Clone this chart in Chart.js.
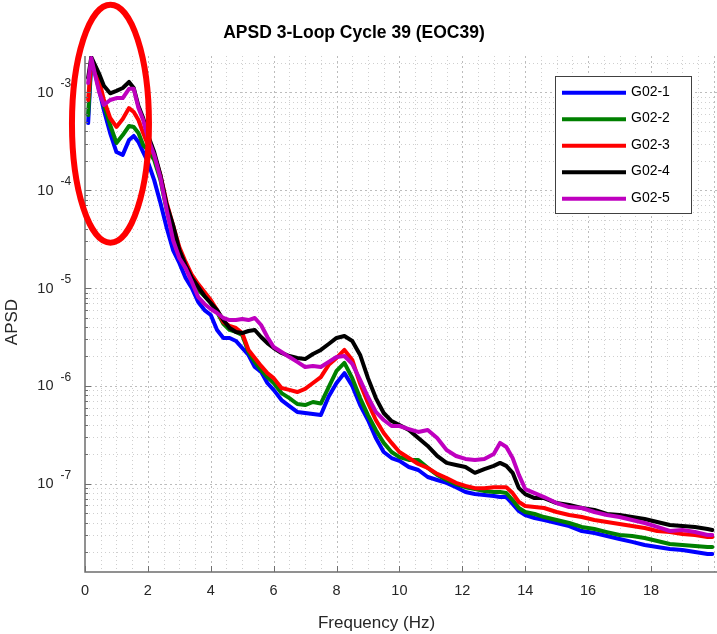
<!DOCTYPE html>
<html>
<head>
<meta charset="utf-8">
<script src="https://cdn.jsdelivr.net/npm/chart.js@4.4.1/dist/chart.umd.min.js"></script>
<style>
html,body{margin:0;padding:0;background:#ffffff;}
#wrap{width:717px;height:634px;position:relative;}
canvas{display:block;}
</style>
</head>
<body>
<div id="wrap"><canvas id="c" width="717" height="634"></canvas></div>
<script>
// ---------------- DATA ----------------
const freqHz = [0.1,0.2,0.3,0.45,0.6,0.8,1.0,1.2,1.4,1.55,1.7,1.85,
  2.0,2.2,2.4,2.6,2.8,3.0,3.2,3.4,3.6,3.8,4.0,4.2,4.4,4.6,4.8,
  5.0,5.2,5.4,5.6,5.8,6.0,6.25,6.5,6.75,7.0,7.25,7.5,7.75,
  8.0,8.25,8.5,8.75,9.0,9.25,9.5,9.75,10.0,10.3,10.6,10.9,
  11.2,11.5,11.8,12.1,12.4,12.7,13.0,13.2,13.4,13.6,13.8,
  14.0,14.3,14.6,15.0,15.4,15.8,16.2,16.6,17.0,17.4,17.8,
  18.2,18.6,19.0,19.4,19.8,19.95];

const g02_1 = [4.87e-4,2.05e-3,1.70e-3,1.06e-3,6.63e-4,3.85e-4,2.46e-4,2.30e-4,3.27e-4,3.59e-4,3.12e-4,2.46e-4,
  1.95e-4,1.27e-4,7.40e-5,4.12e-5,2.45e-5,1.81e-5,1.27e-5,1.0e-5,7.2e-6,5.96e-6,5.31e-6,3.73e-6,3.09e-6,3.09e-6,2.88e-6,
  2.44e-6,2.07e-6,1.56e-6,1.39e-6,1.07e-6,9.1e-7,7.16e-7,6.22e-7,5.41e-7,5.28e-7,5.16e-7,5.03e-7,7.8e-7,
  1.07e-6,1.35e-6,1.0e-6,6.37e-7,4.48e-7,2.93e-7,2.11e-7,1.83e-7,1.71e-7,1.48e-7,1.38e-7,1.17e-7,
  1.09e-7,1.02e-7,9.2e-8,8.21e-8,7.83e-8,7.65e-8,7.47e-8,7.30e-8,7.30e-8,6.2e-8,5.25e-8,
  4.78e-8,4.46e-8,4.25e-8,3.96e-8,3.69e-8,3.28e-8,3.13e-8,2.92e-8,2.72e-8,2.54e-8,2.36e-8,
  2.25e-8,2.15e-8,2.10e-8,2.0e-8,1.91e-8,1.91e-8];

const g02_2 = [5.88e-4,2.15e-3,1.78e-3,1.22e-3,7.45e-4,4.65e-4,3.05e-4,3.67e-4,4.54e-4,4.44e-4,3.85e-4,2.90e-4,
  2.58e-4,2.04e-4,1.27e-4,6.28e-5,3.49e-5,2.18e-5,1.64e-5,1.21e-5,9.6e-6,8.3e-6,7.03e-6,5.69e-6,4.30e-6,3.73e-6,3.56e-6,
  3.31e-6,2.22e-6,1.76e-6,1.45e-6,1.23e-6,1.07e-6,8.44e-7,7.5e-7,6.53e-7,6.37e-7,6.84e-7,6.6e-7,9.7e-7,
  1.42e-6,1.72e-6,1.20e-6,7.5e-7,5.03e-7,3.54e-7,2.61e-7,2.11e-7,1.87e-7,1.75e-7,1.75e-7,1.45e-7,
  1.23e-7,1.09e-7,9.9e-8,9.2e-8,8.81e-8,8.41e-8,8.21e-8,8.21e-8,8.02e-8,6.8e-8,5.64e-8,
  5.13e-8,4.90e-8,4.56e-8,4.25e-8,3.96e-8,3.61e-8,3.44e-8,3.20e-8,2.99e-8,2.92e-8,2.78e-8,
  2.59e-8,2.42e-8,2.36e-8,2.31e-8,2.25e-8,2.25e-8];

const g02_3 = [8.37e-4,2.15e-3,1.87e-3,1.34e-3,8.37e-4,5.48e-4,4.44e-4,5.35e-4,6.92e-4,6.31e-4,5.23e-4,3.85e-4,
  2.90e-4,2.30e-4,1.43e-4,7.40e-5,4.41e-5,2.63e-5,1.85e-5,1.36e-5,1.10e-5,9.1e-6,7.55e-6,5.96e-6,4.50e-6,4.10e-6,3.91e-6,
  3.47e-6,2.33e-6,1.93e-6,1.60e-6,1.35e-6,1.20e-6,9.5e-7,9.1e-7,8.65e-7,9.3e-7,1.07e-6,1.23e-6,1.64e-6,
  1.93e-6,2.33e-6,1.84e-6,1.05e-6,6.68e-7,4.48e-7,3.30e-7,2.61e-7,2.11e-7,1.83e-7,1.59e-7,1.45e-7,
  1.26e-7,1.14e-7,1.02e-7,9.5e-8,9.0e-8,9.0e-8,9.2e-8,9.2e-8,9.2e-8,8.02e-8,6.5e-8,
  5.91e-8,5.77e-8,5.64e-8,5.13e-8,4.78e-8,4.56e-8,4.25e-8,4.06e-8,3.87e-8,3.69e-8,3.52e-8,
  3.28e-8,3.20e-8,3.06e-8,2.99e-8,2.85e-8,2.85e-8];

const g02_4 = [1.41e-3,2.3e-3,1.96e-3,1.55e-3,1.17e-3,9.8e-4,1.04e-3,1.11e-3,1.28e-3,1.11e-3,7.26e-4,5.48e-4,
  3.67e-4,2.46e-4,1.43e-4,7.05e-5,4.41e-5,2.45e-5,1.72e-5,1.27e-5,1.03e-5,8.3e-6,7.03e-6,5.96e-6,4.71e-6,3.91e-6,3.56e-6,
  3.47e-6,3.64e-6,3.73e-6,3.16e-6,2.74e-6,2.44e-6,2.17e-6,2.02e-6,1.93e-6,1.88e-6,2.12e-6,2.33e-6,2.68e-6,
  3.09e-6,3.24e-6,2.88e-6,2.07e-6,1.20e-6,7.5e-7,5.28e-7,4.37e-7,3.98e-7,3.54e-7,2.93e-7,2.43e-7,
  1.92e-7,1.63e-7,1.55e-7,1.48e-7,1.29e-7,1.41e-7,1.52e-7,1.63e-7,1.52e-7,1.29e-7,9.0e-8,
  7.83e-8,7.13e-8,7.13e-8,6.34e-8,6.05e-8,5.64e-8,5.38e-8,4.90e-8,4.78e-8,4.56e-8,4.35e-8,
  4.06e-8,3.78e-8,3.69e-8,3.61e-8,3.44e-8,3.36e-8];

const g02_5 = [1.25e-3,2.25e-3,1.62e-3,1.01e-3,7.45e-4,8.37e-4,8.77e-4,8.77e-4,1.09e-3,1.09e-3,6.92e-4,5.23e-4,
  3.42e-4,2.30e-4,1.34e-4,6.28e-5,3.10e-5,2.03e-5,1.60e-5,1.15e-5,8.1e-6,6.88e-6,6.11e-6,5.56e-6,4.94e-6,4.71e-6,4.71e-6,
  4.83e-6,4.71e-6,4.94e-6,4.19e-6,3.16e-6,2.50e-6,2.22e-6,1.97e-6,1.76e-6,1.56e-6,1.60e-6,1.56e-6,1.76e-6,
  1.97e-6,2.02e-6,1.68e-6,1.15e-6,7.7e-7,5.41e-7,4.48e-7,3.89e-7,3.89e-7,3.62e-7,3.38e-7,3.54e-7,
  2.93e-7,2.21e-7,1.92e-7,1.79e-7,1.75e-7,1.79e-7,2.01e-7,2.61e-7,2.37e-7,1.83e-7,1.23e-7,
  8.81e-8,8.02e-8,7.30e-8,6.34e-8,5.77e-8,5.64e-8,5.13e-8,4.78e-8,4.56e-8,4.25e-8,3.96e-8,
  3.61e-8,3.28e-8,3.36e-8,3.20e-8,2.99e-8,2.99e-8];

const seriesLabels = ['G02-1','G02-2','G02-3','G02-4','G02-5'];
const seriesValues = [g02_1, g02_2, g02_3, g02_4, g02_5];
const seriesColors = ['#0000ff','#008000','#ff0000','#000000','#bf00bf'];

const xTickValues = [0,2,4,6,8,10,12,14,16,18];
const yTickExponents = [-3,-4,-5,-6,-7];
const titleText = 'APSD 3-Loop Cycle 39 (EOC39)';
const xLabelText = 'Frequency (Hz)';
const yLabelText = 'APSD';
// highlighted region (red ellipse annotation), centre in data units
const highlightCenter = {freq: 0.81, apsd: 4.8e-4};

// ---------------- drawing ----------------
const FONT = '"Liberation Sans", Arial, Helvetica, sans-serif';
const AXIS_COLOR = '#6e6e6e';
const TEXT_COLOR = '#262626';

const matlabAxes = {
  id: 'matlabAxes',
  beforeDraw(chart) {
    const c = chart.ctx;
    c.save();
    c.fillStyle = '#ffffff';
    c.fillRect(0, 0, chart.width, chart.height);
    c.restore();
  },
  beforeDatasetsDraw(chart) {
    const {ctx, chartArea: a, scales: {x, y}} = chart;
    ctx.save();
    ctx.lineWidth = 1;
    // vertical grid (every 0.5 Hz)
    for (let k = 1; k * 0.5 < x.max; k++) {
      const px = Math.round(x.getPixelForValue(k * 0.5)) + 0.5;
      const major = (k % 4 === 0);
      ctx.strokeStyle = major ? '#bcbcbc' : '#cfcfcf';
      ctx.setLineDash(major ? [2, 3] : [1, 3]);
      ctx.beginPath(); ctx.moveTo(px, a.top); ctx.lineTo(px, a.bottom); ctx.stroke();
    }
    // horizontal grid (decades + minor)
    for (let e = -9; e <= -2; e++) {
      for (let m = 1; m <= 9; m++) {
        const v = m * Math.pow(10, e);
        if (v < y.min || v > y.max) continue;
        const py = Math.round(y.getPixelForValue(v)) + 0.5;
        const major = (m === 1);
        ctx.strokeStyle = major ? '#bcbcbc' : '#cfcfcf';
        ctx.setLineDash(major ? [2, 3] : [1, 3]);
        ctx.beginPath(); ctx.moveTo(a.left, py); ctx.lineTo(a.right, py); ctx.stroke();
      }
    }
    ctx.restore();
  },
  afterDatasetsDraw(chart) {
    const {ctx, chartArea: a, scales: {x, y}} = chart;
    ctx.save();
    ctx.setLineDash([]);
    // axis lines
    ctx.strokeStyle = AXIS_COLOR;
    ctx.lineWidth = 1.5;
    ctx.beginPath();
    ctx.moveTo(a.left, a.top); ctx.lineTo(a.left, a.bottom); ctx.lineTo(a.right, a.bottom);
    ctx.stroke();
    // y ticks
    ctx.lineWidth = 1;
    for (let e = -9; e <= -2; e++) {
      for (let m = 1; m <= 9; m++) {
        const v = m * Math.pow(10, e);
        if (v < y.min || v > y.max) continue;
        const py = Math.round(y.getPixelForValue(v)) + 0.5;
        const len = (m === 1) ? 6 : 3;
        ctx.beginPath(); ctx.moveTo(a.left, py); ctx.lineTo(a.left + len, py); ctx.stroke();
      }
    }
    // x ticks
    xTickValues.forEach(v => {
      const px = Math.round(x.getPixelForValue(v)) + 0.5;
      ctx.beginPath(); ctx.moveTo(px, a.bottom); ctx.lineTo(px, a.bottom - 6); ctx.stroke();
    });
    // x tick labels
    ctx.fillStyle = TEXT_COLOR;
    ctx.font = '14.5px ' + FONT;
    ctx.textAlign = 'center';
    ctx.textBaseline = 'alphabetic';
    xTickValues.forEach(v => {
      ctx.fillText(String(v), x.getPixelForValue(v), a.bottom + 23);
    });
    // y tick labels 10^n
    yTickExponents.forEach(e => {
      const py = y.getPixelForValue(Math.pow(10, e));
      ctx.font = '14.5px ' + FONT;
      ctx.textAlign = 'right';
      ctx.fillText('10', a.left - 31.5, py + 4.5);
      ctx.font = '12px ' + FONT;
      ctx.textAlign = 'left';
      ctx.fillText(String(e), a.left - 24.5, py - 5);
    });
    // axis titles
    ctx.font = '17px ' + FONT;
    ctx.textAlign = 'center';
    ctx.fillText(xLabelText, 376.5, 628);
    ctx.save();
    ctx.translate(17, 322);
    ctx.rotate(-Math.PI / 2);
    ctx.fillText(yLabelText, 0, 0);
    ctx.restore();
    // title
    ctx.fillStyle = '#000000';
    ctx.font = 'bold 17.5px ' + FONT;
    ctx.fillText(titleText, 354, 38);

    // legend
    const lx = 555.5, ly = 76.5, lw = 136, lh = 137;
    ctx.fillStyle = '#ffffff';
    ctx.fillRect(lx, ly, lw, lh);
    ctx.strokeStyle = '#404040';
    ctx.lineWidth = 1;
    ctx.strokeRect(lx, ly, lw, lh);
    chart.data.datasets.forEach((ds, i) => {
      const yy = 92.7 + i * 26.5;
      ctx.strokeStyle = ds.borderColor;
      ctx.lineWidth = 4;
      ctx.lineCap = 'butt';
      ctx.beginPath(); ctx.moveTo(562, yy); ctx.lineTo(626, yy); ctx.stroke();
      ctx.fillStyle = '#000000';
      ctx.font = '14px ' + FONT;
      ctx.textAlign = 'left';
      ctx.fillText(ds.label, 631, yy + 2.8);
    });

    // red ellipse annotation
    const cx = x.getPixelForValue(highlightCenter.freq);
    const cy = y.getPixelForValue(highlightCenter.apsd);
    ctx.strokeStyle = '#ff0000';
    ctx.lineWidth = 6;
    ctx.beginPath();
    ctx.ellipse(cx, cy, 38.5, 119, 0, 0, Math.PI * 2);
    ctx.stroke();
    ctx.restore();
  }
};

const datasets = seriesLabels.map((lab, i) => ({
  label: lab,
  data: freqHz.map((f, j) => ({x: f, y: seriesValues[i][j]})),
  borderColor: seriesColors[i],
  backgroundColor: seriesColors[i],
  borderWidth: 4,
  pointRadius: 0,
  pointHoverRadius: 0,
  tension: 0,
  fill: false,
  borderJoinStyle: 'round',
  borderCapStyle: 'round',
  order: seriesLabels.length - i
}));

new Chart(document.getElementById('c'), {
  type: 'line',
  data: {datasets},
  options: {
    responsive: false,
    animation: false,
    devicePixelRatio: 1,
    layout: {padding: {left: 85, right: 0, top: 56, bottom: 62}},
    plugins: {legend: {display: false}, tooltip: {enabled: false}, title: {display: false}},
    scales: {
      x: {type: 'linear', min: 0, max: 20.1, display: false},
      y: {type: 'logarithmic', min: 1.25e-8, max: 2.36e-3, display: false}
    }
  },
  plugins: [matlabAxes]
});
</script>
</body>
</html>
